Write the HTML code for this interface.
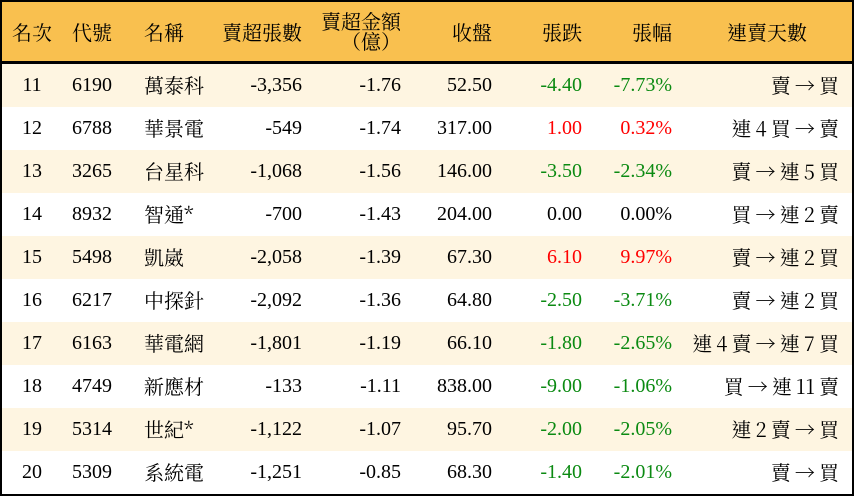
<!DOCTYPE html>
<html>
<head>
<meta charset="utf-8">
<style>
  html, body { margin:0; padding:0; }
  body { width:854px; height:496px; position:relative; overflow:hidden; background:#fff;
         font-family:"Liberation Serif","Noto Serif CJK TC",serif; font-size:20px; color:#000; }
  .frame { position:absolute; left:0; top:0; width:854px; height:496px; box-sizing:border-box; border:2px solid #000; }
  .hdr { position:absolute; left:2px; top:2px; width:850px; height:59px; background:#F9C04F; }
  .hline { position:absolute; left:2px; top:61px; width:850px; height:3px; background:#000; }
  .row { position:absolute; left:2px; width:850px; height:43px; }
  .cream { background:#FEF5E1; }
  .c { position:absolute; top:0; height:43px; line-height:43px; white-space:nowrap; }
  .h { position:absolute; top:2px; height:59px; line-height:59px; white-space:nowrap;
       font-family:"Noto Serif CJK TC","Liberation Serif",serif; }
  .h2 { position:absolute; top:11px; line-height:20px; white-space:nowrap; text-align:right;
        font-family:"Noto Serif CJK TC","Liberation Serif",serif; }
  .cjk { font-family:"Noto Serif CJK TC","Liberation Serif",serif; top:-1px; }
  .days { word-spacing:-1px; }
  .g { color:#0B8A12; }
  .r { color:#FF0000; }
  .ctr { text-align:center; }
  .rt { text-align:right; }
</style>
</head>
<body>
<div class="hdr"></div>
<div class="hline"></div>

<div class="h ctr" style="left:2px;width:60px;">名次</div>
<div class="h ctr" style="left:62px;width:60px;">代號</div>
<div class="h" style="left:144px;">名稱</div>
<div class="h rt" style="left:150px;width:152px;">賣超張數</div>
<div class="h2" style="left:240px;width:161px;">賣超金額<br>（億）</div>
<div class="h rt" style="left:400px;width:92px;">收盤</div>
<div class="h rt" style="left:500px;width:82px;">張跌</div>
<div class="h rt" style="left:590px;width:82px;">張幅</div>
<div class="h ctr" style="left:687px;width:160px;">連賣天數</div>

<div class="row cream" style="top:64px;">
  <div class="c ctr" style="left:0;width:60px;">11</div>
  <div class="c ctr" style="left:60px;width:60px;">6190</div>
  <div class="c cjk" style="left:142px;">萬泰科</div>
  <div class="c rt" style="left:150px;width:150px;">-3,356</div>
  <div class="c rt" style="left:300px;width:99px;">-1.76</div>
  <div class="c rt" style="left:400px;width:90px;">52.50</div>
  <div class="c rt g" style="left:490px;width:90px;">-4.40</div>
  <div class="c rt g" style="left:580px;width:90px;">-7.73%</div>
  <div class="c rt cjk days" style="left:670px;width:167px;">賣 → 買</div>
</div>
<div class="row" style="top:107px;">
  <div class="c ctr" style="left:0;width:60px;">12</div>
  <div class="c ctr" style="left:60px;width:60px;">6788</div>
  <div class="c cjk" style="left:142px;">華景電</div>
  <div class="c rt" style="left:150px;width:150px;">-549</div>
  <div class="c rt" style="left:300px;width:99px;">-1.74</div>
  <div class="c rt" style="left:400px;width:90px;">317.00</div>
  <div class="c rt r" style="left:490px;width:90px;">1.00</div>
  <div class="c rt r" style="left:580px;width:90px;">0.32%</div>
  <div class="c rt cjk days" style="left:670px;width:167px;">連 4 買 → 賣</div>
</div>
<div class="row cream" style="top:150px;">
  <div class="c ctr" style="left:0;width:60px;">13</div>
  <div class="c ctr" style="left:60px;width:60px;">3265</div>
  <div class="c cjk" style="left:142px;">台星科</div>
  <div class="c rt" style="left:150px;width:150px;">-1,068</div>
  <div class="c rt" style="left:300px;width:99px;">-1.56</div>
  <div class="c rt" style="left:400px;width:90px;">146.00</div>
  <div class="c rt g" style="left:490px;width:90px;">-3.50</div>
  <div class="c rt g" style="left:580px;width:90px;">-2.34%</div>
  <div class="c rt cjk days" style="left:670px;width:167px;">賣 → 連 5 買</div>
</div>
<div class="row" style="top:193px;">
  <div class="c ctr" style="left:0;width:60px;">14</div>
  <div class="c ctr" style="left:60px;width:60px;">8932</div>
  <div class="c cjk" style="left:142px;">智通*</div>
  <div class="c rt" style="left:150px;width:150px;">-700</div>
  <div class="c rt" style="left:300px;width:99px;">-1.43</div>
  <div class="c rt" style="left:400px;width:90px;">204.00</div>
  <div class="c rt" style="left:490px;width:90px;">0.00</div>
  <div class="c rt" style="left:580px;width:90px;">0.00%</div>
  <div class="c rt cjk days" style="left:670px;width:167px;">買 → 連 2 賣</div>
</div>
<div class="row cream" style="top:236px;">
  <div class="c ctr" style="left:0;width:60px;">15</div>
  <div class="c ctr" style="left:60px;width:60px;">5498</div>
  <div class="c cjk" style="left:142px;">凱崴</div>
  <div class="c rt" style="left:150px;width:150px;">-2,058</div>
  <div class="c rt" style="left:300px;width:99px;">-1.39</div>
  <div class="c rt" style="left:400px;width:90px;">67.30</div>
  <div class="c rt r" style="left:490px;width:90px;">6.10</div>
  <div class="c rt r" style="left:580px;width:90px;">9.97%</div>
  <div class="c rt cjk days" style="left:670px;width:167px;">賣 → 連 2 買</div>
</div>
<div class="row" style="top:279px;">
  <div class="c ctr" style="left:0;width:60px;">16</div>
  <div class="c ctr" style="left:60px;width:60px;">6217</div>
  <div class="c cjk" style="left:142px;">中探針</div>
  <div class="c rt" style="left:150px;width:150px;">-2,092</div>
  <div class="c rt" style="left:300px;width:99px;">-1.36</div>
  <div class="c rt" style="left:400px;width:90px;">64.80</div>
  <div class="c rt g" style="left:490px;width:90px;">-2.50</div>
  <div class="c rt g" style="left:580px;width:90px;">-3.71%</div>
  <div class="c rt cjk days" style="left:670px;width:167px;">賣 → 連 2 買</div>
</div>
<div class="row cream" style="top:322px;">
  <div class="c ctr" style="left:0;width:60px;">17</div>
  <div class="c ctr" style="left:60px;width:60px;">6163</div>
  <div class="c cjk" style="left:142px;">華電網</div>
  <div class="c rt" style="left:150px;width:150px;">-1,801</div>
  <div class="c rt" style="left:300px;width:99px;">-1.19</div>
  <div class="c rt" style="left:400px;width:90px;">66.10</div>
  <div class="c rt g" style="left:490px;width:90px;">-1.80</div>
  <div class="c rt g" style="left:580px;width:90px;">-2.65%</div>
  <div class="c rt cjk days" style="left:670px;width:167px;">連 4 賣 → 連 7 買</div>
</div>
<div class="row" style="top:365px;">
  <div class="c ctr" style="left:0;width:60px;">18</div>
  <div class="c ctr" style="left:60px;width:60px;">4749</div>
  <div class="c cjk" style="left:142px;">新應材</div>
  <div class="c rt" style="left:150px;width:150px;">-133</div>
  <div class="c rt" style="left:300px;width:99px;">-1.11</div>
  <div class="c rt" style="left:400px;width:90px;">838.00</div>
  <div class="c rt g" style="left:490px;width:90px;">-9.00</div>
  <div class="c rt g" style="left:580px;width:90px;">-1.06%</div>
  <div class="c rt cjk days" style="left:670px;width:167px;">買 → 連 11 賣</div>
</div>
<div class="row cream" style="top:408px;">
  <div class="c ctr" style="left:0;width:60px;">19</div>
  <div class="c ctr" style="left:60px;width:60px;">5314</div>
  <div class="c cjk" style="left:142px;">世紀*</div>
  <div class="c rt" style="left:150px;width:150px;">-1,122</div>
  <div class="c rt" style="left:300px;width:99px;">-1.07</div>
  <div class="c rt" style="left:400px;width:90px;">95.70</div>
  <div class="c rt g" style="left:490px;width:90px;">-2.00</div>
  <div class="c rt g" style="left:580px;width:90px;">-2.05%</div>
  <div class="c rt cjk days" style="left:670px;width:167px;">連 2 賣 → 買</div>
</div>
<div class="row" style="top:451px;">
  <div class="c ctr" style="left:0;width:60px;">20</div>
  <div class="c ctr" style="left:60px;width:60px;">5309</div>
  <div class="c cjk" style="left:142px;">系統電</div>
  <div class="c rt" style="left:150px;width:150px;">-1,251</div>
  <div class="c rt" style="left:300px;width:99px;">-0.85</div>
  <div class="c rt" style="left:400px;width:90px;">68.30</div>
  <div class="c rt g" style="left:490px;width:90px;">-1.40</div>
  <div class="c rt g" style="left:580px;width:90px;">-2.01%</div>
  <div class="c rt cjk days" style="left:670px;width:167px;">賣 → 買</div>
</div>

<div class="frame"></div>
</body>
</html>
